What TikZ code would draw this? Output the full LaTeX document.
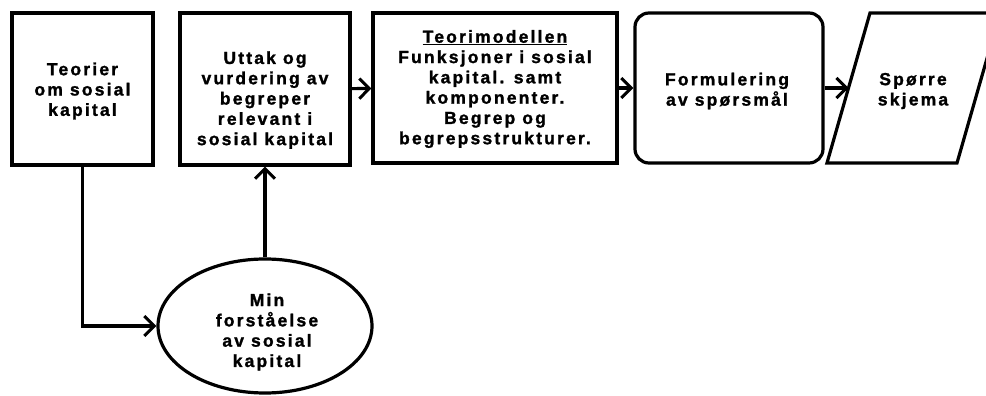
\documentclass[tikz,border=0pt]{standalone}
\usepackage{fontspec}
\setmainfont{Liberation Sans}[LetterSpace=12.5, FakeBold=1.4]
\usetikzlibrary{shapes.geometric,arrows.meta}
\begin{document}
\begin{tikzpicture}[x=1pt,y=-1pt,
  every node/.style={font=\bfseries\fontsize{17.5}{20.3}\selectfont, align=center, inner sep=0pt},
  frame/.style={draw, line width=3.2pt, rectangle},
  outline/.style={draw, line width=3.2pt, line join=miter},
  link/.style={line width=3.2pt, -{Straight Barb[length=10pt,width=20pt,line width=3pt]}}]
  \clip (0,0) rectangle (986,396);
  \fill[white] (0,0) rectangle (986,396);

  % process boxes along the top row
  \node[frame, minimum width=141, minimum height=152] (teori) at (82.5,89) {};
  \node (teoritxt) at (82.5,91) {Teorier\\om sosial\\kapital};

  \node[frame, minimum width=170, minimum height=152] (uttak) at (265,89) {};
  \node (uttaktxt) at (265,100) {Uttak og\\vurdering av\\begreper\\relevant i\\sosial kapital};

  \node[frame, minimum width=244, minimum height=150] (modell) at (495,88) {};
  \node (modelltxt) at (495,89) {\underline{Teorimodellen}\\Funksjoner i sosial\\kapital. samt\\komponenter.\\Begrep og\\begrepsstrukturer.};

  \node[frame, rounded corners=14pt, minimum width=188, minimum height=150] (formul) at (729,88) {};
  \node (formultxt) at (727,91) {Formulering\\av spørsmål};

  % slanted document shape (parallelogram)
  \node (skjema) at (913,91) {Spørre\\skjema};
  \draw[outline] (827,163) -- (870,13) -- (1000,13) -- (957,163) -- cycle;
  \coordinate (skjemain) at (848.5,88);

  % own understanding
  \node[draw, line width=3.2pt, ellipse, minimum width=214, minimum height=134] (forst) at (265,326) {};
  \node (forsttxt) at (267,332) {Min\\forståelse\\av sosial\\kapital};

  % connectors
  \draw[link] (uttak) -- (modell);
  \draw[link] (modell) -- (formul);
  \draw[link] (formul) -- (skjemain);
  \draw[link] (forst) -- (uttak);
  \draw[link] (teori.south) |- (forst.west);
\end{tikzpicture}
\end{document}
